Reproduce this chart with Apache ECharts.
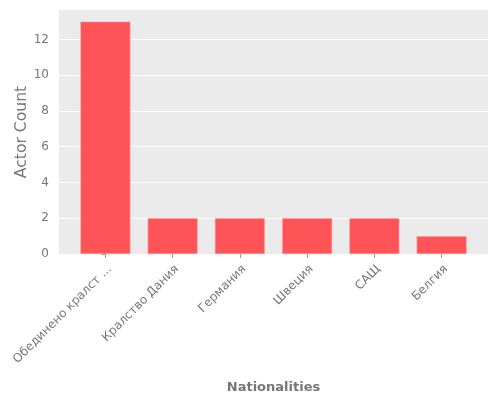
<!DOCTYPE html>
<html lang="en">
<head>
    <meta charset="UTF-8">
    <title>Nationalities</title>
    <script src="https://cdn.jsdelivr.net/npm/echarts@6/dist/echarts.min.js"></script>
</head>
<style>
    *{
        margin: 0;
        padding: 0;
    }
    html,body{
        width: 100%;
        height: 100%;
        overflow: hidden;
        background: #fff;
    }
    .container{
        width: 500px;
        height: 400px;
    }
</style>
<body>
<div class="container"></div>
<script>
    let categories=['Обединено кралство','Кралство Дания','Германия','Швеция','САЩ','Белгия'];
    let counts=[13,2,2,2,2,1];
    let yTicks=[0,2,4,6,8,10,12];

    let container=document.querySelector('.container');
    let mycharts=echarts.init(container);

    let positions=categories.map((c,i)=>i);
    let font='DejaVu Sans';

    let options={
        backgroundColor:'#fff',
        animation:false,
        grid:{
            left:59,
            right:12,
            top:10,
            bottom:146,
            outerBoundsMode:'none',
            containLabel:false,
            show:true,
            backgroundColor:'#ebebeb',
            borderWidth:0
        },
        xAxis:{
            type:'value',
            min:-0.69,
            max:5.69,
            name:'Nationalities',
            nameLocation:'middle',
            nameGap:127,
            nameMoveOverlap:false,
            nameTextStyle:{
                color:'#777',
                fontSize:13,
                fontWeight:'bold',
                fontFamily:font
            },
            axisLine:{show:false},
            splitLine:{show:false},
            axisTick:{
                show:true,
                customValues:positions,
                length:4,
                lineStyle:{color:'#999'}
            },
            axisLabel:{
                customValues:positions,
                rotate:45,
                margin:9,
                fontSize:12,
                color:'#777',
                fontFamily:font,
                verticalAlign:'top',
                formatter:function (v) {
                    let name=categories[Math.round(v)];
                    if (name.length>16){
                        name=name.slice(0,16)+' ...';
                    }
                    return name;
                }
            }
        },
        yAxis:{
            type:'value',
            min:0,
            max:13.65,
            name:'Actor Count',
            nameLocation:'middle',
            nameGap:29,
            nameMoveOverlap:false,
            nameTextStyle:{
                color:'#777',
                fontSize:15.6,
                fontFamily:font
            },
            axisLine:{show:false},
            axisTick:{
                show:true,
                customValues:yTicks,
                length:4,
                lineStyle:{color:'#999'}
            },
            axisLabel:{
                customValues:yTicks,
                margin:10,
                fontSize:12,
                color:'#777',
                fontFamily:font
            },
            splitLine:{
                show:true,
                lineStyle:{color:'#fff',width:1}
            }
        },
        series:[
            {
                type:'bar',
                data:counts.map((v,i)=>[i,v]),
                barWidth:50,
                itemStyle:{
                    color:'#fe5457',
                    borderColor:'#f8a3a3',
                    borderWidth:0.6
                }
            }
        ]
    };
    mycharts.setOption(options);
</script>
</body>
</html>
